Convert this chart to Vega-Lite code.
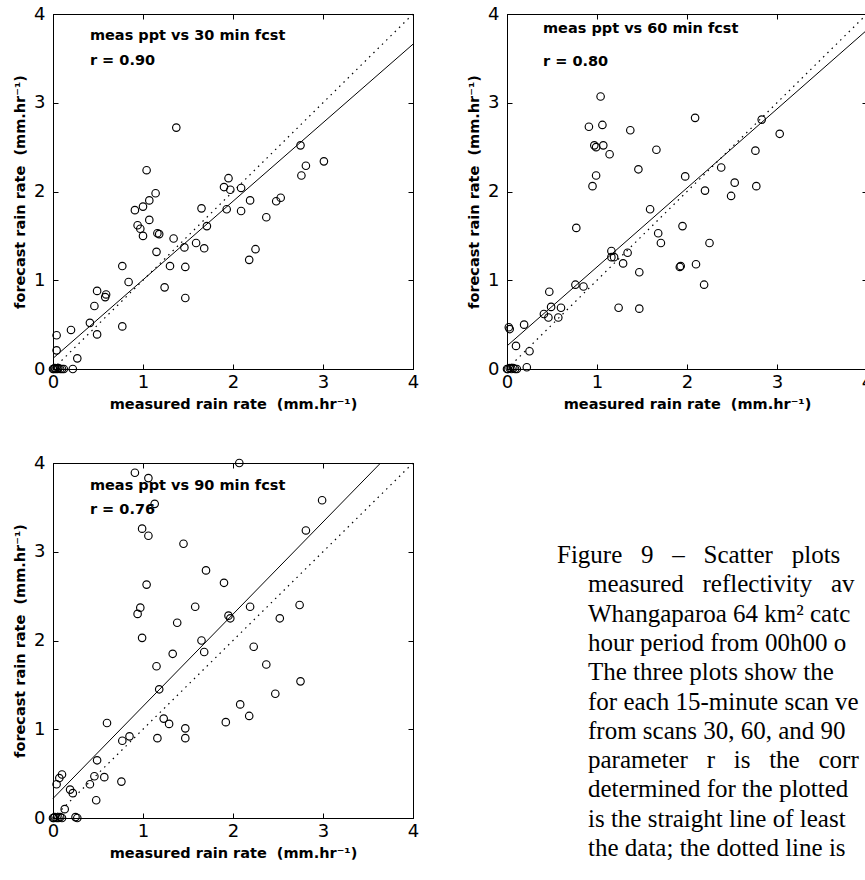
{
  "$schema": "https://vega.github.io/schema/vega-lite/v6.json",
  "background": "white",
  "padding": {"left": 12, "top": 4, "right": 0, "bottom": 0},
  "columns": 2,
  "spacing": {"row": 94, "column": 94},
  "bounds": "flush",
  "datasets": {
    "pts": [
      {"p":30,"x":0,"y":0},{"p":30,"x":0.01,"y":0},{"p":30,"x":0.02,"y":0.01},{"p":30,"x":0.03,"y":0},{"p":30,"x":0.05,"y":0},{"p":30,"x":0.06,"y":0.01},{"p":30,"x":0.08,"y":0},{"p":30,"x":0.1,"y":0},{"p":30,"x":0.12,"y":0},
      {"p":30,"x":0.04,"y":0.38},{"p":30,"x":0.04,"y":0.21},{"p":30,"x":0.2,"y":0.44},{"p":30,"x":0.27,"y":0.12},{"p":30,"x":0.22,"y":0.0},
      {"p":30,"x":0.41,"y":0.52},{"p":30,"x":0.46,"y":0.71},{"p":30,"x":0.49,"y":0.88},{"p":30,"x":0.49,"y":0.39},{"p":30,"x":0.59,"y":0.84},{"p":30,"x":0.58,"y":0.81},
      {"p":30,"x":0.77,"y":0.48},{"p":30,"x":0.77,"y":1.16},{"p":30,"x":0.84,"y":0.98},{"p":30,"x":0.91,"y":1.79},{"p":30,"x":1.0,"y":1.83},{"p":30,"x":0.94,"y":1.62},{"p":30,"x":0.97,"y":1.58},{"p":30,"x":1.0,"y":1.5},
      {"p":30,"x":1.04,"y":2.24},{"p":30,"x":1.07,"y":1.9},{"p":30,"x":1.07,"y":1.68},{"p":30,"x":1.14,"y":1.98},{"p":30,"x":1.16,"y":1.53},{"p":30,"x":1.18,"y":1.52},{"p":30,"x":1.15,"y":1.32},
      {"p":30,"x":1.34,"y":1.47},{"p":30,"x":1.3,"y":1.16},{"p":30,"x":1.24,"y":0.92},{"p":30,"x":1.46,"y":1.37},{"p":30,"x":1.47,"y":1.15},{"p":30,"x":1.47,"y":0.8},{"p":30,"x":1.59,"y":1.42},{"p":30,"x":1.68,"y":1.36},{"p":30,"x":1.65,"y":1.81},{"p":30,"x":1.71,"y":1.61},{"p":30,"x":1.37,"y":2.72},
      {"p":30,"x":1.9,"y":2.05},{"p":30,"x":1.95,"y":2.15},{"p":30,"x":1.97,"y":2.02},{"p":30,"x":1.93,"y":1.8},{"p":30,"x":2.09,"y":2.04},{"p":30,"x":2.09,"y":1.78},{"p":30,"x":2.19,"y":1.9},{"p":30,"x":2.18,"y":1.23},{"p":30,"x":2.25,"y":1.35},{"p":30,"x":2.37,"y":1.71},{"p":30,"x":2.48,"y":1.89},{"p":30,"x":2.53,"y":1.93},{"p":30,"x":2.75,"y":2.52},{"p":30,"x":2.76,"y":2.18},{"p":30,"x":2.81,"y":2.29},{"p":30,"x":3.01,"y":2.34},

      {"p":60,"x":0,"y":0},{"p":60,"x":0.01,"y":0},{"p":60,"x":0.03,"y":0.01},{"p":60,"x":0.05,"y":0},{"p":60,"x":0.07,"y":0.01},{"p":60,"x":0.09,"y":0},{"p":60,"x":0.11,"y":0},
      {"p":60,"x":0.02,"y":0.47},{"p":60,"x":0.03,"y":0.45},{"p":60,"x":0.1,"y":0.26},{"p":60,"x":0.25,"y":0.2},{"p":60,"x":0.22,"y":0.02},{"p":60,"x":0.19,"y":0.5},
      {"p":60,"x":0.41,"y":0.62},{"p":60,"x":0.46,"y":0.58},{"p":60,"x":0.49,"y":0.7},{"p":60,"x":0.47,"y":0.87},{"p":60,"x":0.57,"y":0.58},{"p":60,"x":0.6,"y":0.69},
      {"p":60,"x":0.76,"y":0.95},{"p":60,"x":0.85,"y":0.93},{"p":60,"x":0.77,"y":1.59},{"p":60,"x":1.24,"y":0.69},{"p":60,"x":1.47,"y":0.68},
      {"p":60,"x":1.16,"y":1.33},{"p":60,"x":1.16,"y":1.26},{"p":60,"x":1.19,"y":1.26},{"p":60,"x":1.34,"y":1.31},{"p":60,"x":1.29,"y":1.19},{"p":60,"x":1.47,"y":1.09},
      {"p":60,"x":1.92,"y":1.15},{"p":60,"x":1.93,"y":1.16},{"p":60,"x":2.1,"y":1.18},{"p":60,"x":2.19,"y":0.95},{"p":60,"x":2.25,"y":1.42},
      {"p":60,"x":1.04,"y":3.07},{"p":60,"x":0.91,"y":2.73},{"p":60,"x":1.06,"y":2.75},{"p":60,"x":0.97,"y":2.52},{"p":60,"x":0.99,"y":2.5},{"p":60,"x":1.07,"y":2.52},{"p":60,"x":1.14,"y":2.42},{"p":60,"x":0.99,"y":2.18},{"p":60,"x":0.95,"y":2.06},
      {"p":60,"x":1.37,"y":2.69},{"p":60,"x":1.66,"y":2.47},{"p":60,"x":1.46,"y":2.25},{"p":60,"x":1.98,"y":2.17},{"p":60,"x":2.09,"y":2.83},{"p":60,"x":1.59,"y":1.8},{"p":60,"x":1.68,"y":1.53},{"p":60,"x":1.71,"y":1.42},{"p":60,"x":1.95,"y":1.61},
      {"p":60,"x":2.2,"y":2.01},{"p":60,"x":2.38,"y":2.27},{"p":60,"x":2.49,"y":1.95},{"p":60,"x":2.53,"y":2.1},{"p":60,"x":2.76,"y":2.46},{"p":60,"x":2.77,"y":2.06},{"p":60,"x":2.83,"y":2.81},{"p":60,"x":3.03,"y":2.65},

      {"p":90,"x":0,"y":0},{"p":90,"x":0.01,"y":0},{"p":90,"x":0.02,"y":0.01},{"p":90,"x":0.04,"y":0},{"p":90,"x":0.06,"y":0},{"p":90,"x":0.08,"y":0.01},{"p":90,"x":0.1,"y":0},
      {"p":90,"x":2.07,"y":4.0},{"p":90,"x":0.91,"y":3.89},{"p":90,"x":1.06,"y":3.83},{"p":90,"x":1.13,"y":3.54},{"p":90,"x":0.99,"y":3.26},{"p":90,"x":1.06,"y":3.18},{"p":90,"x":1.45,"y":3.09},{"p":90,"x":2.99,"y":3.58},{"p":90,"x":2.81,"y":3.24},
      {"p":90,"x":1.7,"y":2.79},{"p":90,"x":1.9,"y":2.65},{"p":90,"x":1.04,"y":2.63},{"p":90,"x":0.97,"y":2.37},{"p":90,"x":0.94,"y":2.3},{"p":90,"x":1.58,"y":2.38},{"p":90,"x":1.38,"y":2.2},{"p":90,"x":1.95,"y":2.28},{"p":90,"x":1.97,"y":2.25},{"p":90,"x":2.19,"y":2.38},{"p":90,"x":2.74,"y":2.4},{"p":90,"x":2.52,"y":2.25},
      {"p":90,"x":0.99,"y":2.03},{"p":90,"x":1.65,"y":2.0},{"p":90,"x":1.68,"y":1.87},{"p":90,"x":1.33,"y":1.85},{"p":90,"x":2.23,"y":1.93},{"p":90,"x":1.15,"y":1.71},{"p":90,"x":2.37,"y":1.73},{"p":90,"x":1.18,"y":1.45},{"p":90,"x":2.75,"y":1.54},{"p":90,"x":2.47,"y":1.4},{"p":90,"x":2.08,"y":1.28},{"p":90,"x":2.18,"y":1.15},
      {"p":90,"x":1.23,"y":1.12},{"p":90,"x":1.29,"y":1.06},{"p":90,"x":1.92,"y":1.08},{"p":90,"x":1.47,"y":1.01},{"p":90,"x":1.47,"y":0.9},{"p":90,"x":1.16,"y":0.9},{"p":90,"x":0.6,"y":1.07},{"p":90,"x":0.85,"y":0.92},{"p":90,"x":0.77,"y":0.87},
      {"p":90,"x":0.49,"y":0.65},{"p":90,"x":0.46,"y":0.47},{"p":90,"x":0.57,"y":0.46},{"p":90,"x":0.41,"y":0.38},{"p":90,"x":0.76,"y":0.41},{"p":90,"x":0.48,"y":0.2},
      {"p":90,"x":0.04,"y":0.38},{"p":90,"x":0.1,"y":0.49},{"p":90,"x":0.07,"y":0.45},{"p":90,"x":0.19,"y":0.32},{"p":90,"x":0.22,"y":0.28},{"p":90,"x":0.13,"y":0.1},{"p":90,"x":0.25,"y":0.01},{"p":90,"x":0.27,"y":0.0}
    ],
    "fit": [
      {"p":30,"x":0,"y":0.12},{"p":30,"x":4,"y":3.66},
      {"p":60,"x":0,"y":0.26},{"p":60,"x":4,"y":3.82},
      {"p":90,"x":0,"y":0.22},{"p":90,"x":3.64,"y":4.0}
    ],
    "ident": [{"x":0,"y":0},{"x":4,"y":4}],
    "notes": [
      {"p":30,"label":"meas ppt vs 30 min fcst","r":"r = 0.90"},
      {"p":60,"label":"meas ppt vs 60 min fcst","r":"r = 0.80"},
      {"p":90,"label":"meas ppt vs 90 min fcst","r":"r = 0.76"}
    ],
    "caption": [
      {"n":1,"line":"Figure\u00a0\u00a0 9\u00a0\u00a0 –\u00a0\u00a0 Scatter\u00a0\u00a0 plots"},
      {"n":2,"line":"measured\u00a0\u00a0 reflectivity\u00a0\u00a0 av"},
      {"n":3,"line":"Whangaparoa 64 km² catc"},
      {"n":4,"line":"hour period from 00h00 o"},
      {"n":5,"line":"The three plots show the"},
      {"n":6,"line":"for each 15-minute scan ve"},
      {"n":7,"line":"from scans 30, 60, and 90"},
      {"n":8,"line":"parameter\u00a0\u00a0 r\u00a0\u00a0 is\u00a0\u00a0 the\u00a0\u00a0 corr"},
      {"n":9,"line":"determined for the plotted"},
      {"n":10,"line":"is the straight line of least"},
      {"n":11,"line":"the data; the dotted line is"}
    ]
  },
  "config": {
    "view": {"stroke": "black", "strokeWidth": 1},
    "axis": {"grid": false, "domainColor": "black", "tickColor": "black", "labelColor": "black", "titleColor": "black", "domainWidth": 1, "tickWidth": 1},
    "point": {"shape": "circle", "filled": false, "color": "black", "size": 56, "strokeWidth": 1.15, "opacity": 1},
    "line": {"color": "black", "strokeWidth": 1}
  },
  "concat": [
    {
      "width": 360, "height": 355,
      "resolve": {"axis": {"x": "independent", "y": "independent"}},
      "layer": [
        {
          "data": {"name": "pts"}, "transform": [{"filter": "datum.p === 30"}],
          "mark": {"type": "point"},
          "encoding": {
            "x": {"field": "x", "type": "quantitative", "scale": {"domain": [0, 4], "nice": false, "zero": false},
                  "axis": {"orient": "bottom", "values": [0,1,2,3,4], "format": "d", "tickSize": -5, "labelPadding": 9, "labelFlush": false, "labelOverlap": false, "labelFont": "DejaVu Sans", "labelFontSize": 18, "title": "measured rain rate\u00a0 (mm.hr⁻¹)", "titleFont": "DejaVu Sans", "titleFontSize": 14.5, "titleFontWeight": "bold", "titlePadding": 6}},
            "y": {"field": "y", "type": "quantitative", "scale": {"domain": [0, 4], "nice": false, "zero": false},
                  "axis": {"orient": "left", "values": [0,1,2,3,4], "format": "d", "tickSize": -5, "labelPadding": 13, "labelFlush": false, "labelOverlap": false, "labelFont": "DejaVu Sans", "labelFontSize": 18, "title": "forecast rain rate\u00a0 (mm.hr⁻¹)", "titleFont": "DejaVu Sans", "titleFontSize": 14.5, "titleFontWeight": "bold", "titlePadding": 6}}
          }
        },
        {
          "data": {"name": "fit"}, "transform": [{"filter": "datum.p === 30"}],
          "mark": {"type": "line"},
          "encoding": {
            "x": {"field": "x", "type": "quantitative", "axis": {"orient": "top", "values": [0,1,2,3,4], "tickSize": -5, "labels": false, "title": null}},
            "y": {"field": "y", "type": "quantitative", "axis": {"orient": "right", "values": [0,1,2,3,4], "tickSize": -5, "labels": false, "title": null}}
          }
        },
        {
          "data": {"name": "ident"},
          "mark": {"type": "line", "strokeDash": [1.5, 4.5], "strokeWidth": 1.2},
          "encoding": {
            "x": {"field": "x", "type": "quantitative", "axis": null},
            "y": {"field": "y", "type": "quantitative", "axis": null}
          }
        },
        {
          "data": {"name": "notes"}, "transform": [{"filter": "datum.p === 30"}],
          "mark": {"type": "text", "align": "left", "baseline": "alphabetic", "font": "DejaVu Sans", "fontSize": 14.5, "fontWeight": "bold", "color": "black"},
          "encoding": {"x": {"datum": 0.41, "type": "quantitative", "axis": null}, "y": {"datum": 3.71, "type": "quantitative", "axis": null}, "text": {"field": "label"}}
        },
        {
          "data": {"name": "notes"}, "transform": [{"filter": "datum.p === 30"}],
          "mark": {"type": "text", "align": "left", "baseline": "alphabetic", "font": "DejaVu Sans", "fontSize": 14.5, "fontWeight": "bold", "color": "black"},
          "encoding": {"x": {"datum": 0.41, "type": "quantitative", "axis": null}, "y": {"datum": 3.43, "type": "quantitative", "axis": null}, "text": {"field": "r"}}
        }
      ]
    },
    {
      "width": 360, "height": 355,
      "resolve": {"axis": {"x": "independent", "y": "independent"}},
      "layer": [
        {
          "data": {"name": "pts"}, "transform": [{"filter": "datum.p === 60"}],
          "mark": {"type": "point"},
          "encoding": {
            "x": {"field": "x", "type": "quantitative", "scale": {"domain": [0, 4], "nice": false, "zero": false},
                  "axis": {"orient": "bottom", "values": [0,1,2,3,4], "format": "d", "tickSize": -5, "labelPadding": 9, "labelFlush": false, "labelOverlap": false, "labelFont": "DejaVu Sans", "labelFontSize": 18, "title": "measured rain rate\u00a0 (mm.hr⁻¹)", "titleFont": "DejaVu Sans", "titleFontSize": 14.5, "titleFontWeight": "bold", "titlePadding": 6}},
            "y": {"field": "y", "type": "quantitative", "scale": {"domain": [0, 4], "nice": false, "zero": false},
                  "axis": {"orient": "left", "values": [0,1,2,3,4], "format": "d", "tickSize": -5, "labelPadding": 13, "labelFlush": false, "labelOverlap": false, "labelFont": "DejaVu Sans", "labelFontSize": 18, "title": "forecast rain rate\u00a0 (mm.hr⁻¹)", "titleFont": "DejaVu Sans", "titleFontSize": 14.5, "titleFontWeight": "bold", "titlePadding": 6}}
          }
        },
        {
          "data": {"name": "fit"}, "transform": [{"filter": "datum.p === 60"}],
          "mark": {"type": "line"},
          "encoding": {
            "x": {"field": "x", "type": "quantitative", "axis": {"orient": "top", "values": [0,1,2,3,4], "tickSize": -5, "labels": false, "title": null}},
            "y": {"field": "y", "type": "quantitative", "axis": {"orient": "right", "values": [0,1,2,3,4], "tickSize": -5, "labels": false, "title": null}}
          }
        },
        {
          "data": {"name": "ident"},
          "mark": {"type": "line", "strokeDash": [1.5, 4.5], "strokeWidth": 1.2},
          "encoding": {
            "x": {"field": "x", "type": "quantitative", "axis": null},
            "y": {"field": "y", "type": "quantitative", "axis": null}
          }
        },
        {
          "data": {"name": "notes"}, "transform": [{"filter": "datum.p === 60"}],
          "mark": {"type": "text", "align": "left", "baseline": "alphabetic", "font": "DejaVu Sans", "fontSize": 14.5, "fontWeight": "bold", "color": "black"},
          "encoding": {"x": {"datum": 0.4, "type": "quantitative", "axis": null}, "y": {"datum": 3.79, "type": "quantitative", "axis": null}, "text": {"field": "label"}}
        },
        {
          "data": {"name": "notes"}, "transform": [{"filter": "datum.p === 60"}],
          "mark": {"type": "text", "align": "left", "baseline": "alphabetic", "font": "DejaVu Sans", "fontSize": 14.5, "fontWeight": "bold", "color": "black"},
          "encoding": {"x": {"datum": 0.4, "type": "quantitative", "axis": null}, "y": {"datum": 3.41, "type": "quantitative", "axis": null}, "text": {"field": "r"}}
        }
      ]
    },
    {
      "width": 360, "height": 355,
      "resolve": {"axis": {"x": "independent", "y": "independent"}},
      "layer": [
        {
          "data": {"name": "pts"}, "transform": [{"filter": "datum.p === 90"}],
          "mark": {"type": "point"},
          "encoding": {
            "x": {"field": "x", "type": "quantitative", "scale": {"domain": [0, 4], "nice": false, "zero": false},
                  "axis": {"orient": "bottom", "values": [0,1,2,3,4], "format": "d", "tickSize": -5, "labelPadding": 9, "labelFlush": false, "labelOverlap": false, "labelFont": "DejaVu Sans", "labelFontSize": 18, "title": "measured rain rate\u00a0 (mm.hr⁻¹)", "titleFont": "DejaVu Sans", "titleFontSize": 14.5, "titleFontWeight": "bold", "titlePadding": 6}},
            "y": {"field": "y", "type": "quantitative", "scale": {"domain": [0, 4], "nice": false, "zero": false},
                  "axis": {"orient": "left", "values": [0,1,2,3,4], "format": "d", "tickSize": -5, "labelPadding": 13, "labelFlush": false, "labelOverlap": false, "labelFont": "DejaVu Sans", "labelFontSize": 18, "title": "forecast rain rate\u00a0 (mm.hr⁻¹)", "titleFont": "DejaVu Sans", "titleFontSize": 14.5, "titleFontWeight": "bold", "titlePadding": 6}}
          }
        },
        {
          "data": {"name": "fit"}, "transform": [{"filter": "datum.p === 90"}],
          "mark": {"type": "line"},
          "encoding": {
            "x": {"field": "x", "type": "quantitative", "axis": {"orient": "top", "values": [0,1,2,3,4], "tickSize": -5, "labels": false, "title": null}},
            "y": {"field": "y", "type": "quantitative", "axis": {"orient": "right", "values": [0,1,2,3,4], "tickSize": -5, "labels": false, "title": null}}
          }
        },
        {
          "data": {"name": "ident"},
          "mark": {"type": "line", "strokeDash": [1.5, 4.5], "strokeWidth": 1.2},
          "encoding": {
            "x": {"field": "x", "type": "quantitative", "axis": null},
            "y": {"field": "y", "type": "quantitative", "axis": null}
          }
        },
        {
          "data": {"name": "notes"}, "transform": [{"filter": "datum.p === 90"}],
          "mark": {"type": "text", "align": "left", "baseline": "alphabetic", "font": "DejaVu Sans", "fontSize": 14.5, "fontWeight": "bold", "color": "black"},
          "encoding": {"x": {"datum": 0.41, "type": "quantitative", "axis": null}, "y": {"datum": 3.7, "type": "quantitative", "axis": null}, "text": {"field": "label"}}
        },
        {
          "data": {"name": "notes"}, "transform": [{"filter": "datum.p === 90"}],
          "mark": {"type": "text", "align": "left", "baseline": "alphabetic", "font": "DejaVu Sans", "fontSize": 14.5, "fontWeight": "bold", "color": "black"},
          "encoding": {"x": {"datum": 0.41, "type": "quantitative", "axis": null}, "y": {"datum": 3.43, "type": "quantitative", "axis": null}, "text": {"field": "r"}}
        }
      ]
    },
    {
      "width": 360, "height": 355,
      "view": {"stroke": null},
      "data": {"name": "caption"},
      "layer": [
        {
          "transform": [{"filter": "datum.n === 1"}],
          "mark": {"type": "text", "align": "left", "baseline": "alphabetic", "font": "Liberation Serif", "fontSize": 25, "color": "black"},
          "encoding": {
            "x": {"datum": 0, "type": "quantitative", "scale": {"domain": [-1.613, 10], "nice": false, "zero": false}, "axis": null},
            "y": {"field": "n", "type": "quantitative", "scale": {"domain": [-2.413, 9.703], "reverse": true, "nice": false, "zero": false}, "axis": null},
            "text": {"field": "line"}
          }
        },
        {
          "transform": [{"filter": "datum.n > 1"}],
          "mark": {"type": "text", "align": "left", "baseline": "alphabetic", "font": "Liberation Serif", "fontSize": 25, "color": "black"},
          "encoding": {
            "x": {"datum": 1, "type": "quantitative", "axis": null},
            "y": {"field": "n", "type": "quantitative", "axis": null},
            "text": {"field": "line"}
          }
        }
      ]
    }
  ]
}
